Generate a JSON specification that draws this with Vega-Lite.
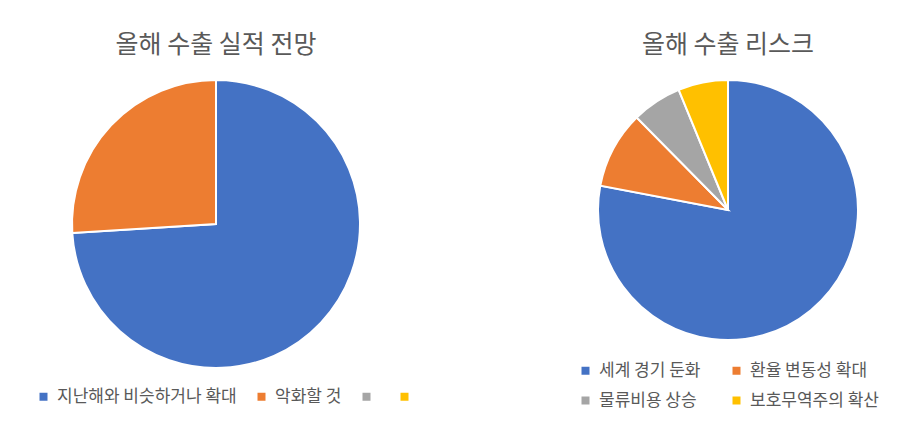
{
  "$schema": "https://vega.github.io/schema/vega-lite/v6.json",
  "background": "white",
  "padding": {"left": 5, "top": 33, "right": 5, "bottom": 5},
  "spacing": 101,
  "resolve": {"scale": {"color": "independent"}, "legend": {"color": "independent"}},
  "config": {
    "view": {"stroke": null},
    "font": "Noto Sans CJK KR",
    "title": {"fontSize": 25, "fontWeight": "normal", "color": "#595959", "offset": 18},
    "legend": {"labelFontSize": 17, "labelColor": "#595959", "symbolType": "square", "symbolSize": 64, "symbolStrokeWidth": 0, "labelOffset": 5, "labelLimit": 400}
  },
  "hconcat": [
    {
      "title": "올해 수출 실적 전망",
      "width": 422,
      "height": 288,
      "data": {"values": [
        {"category": "지난해와 비슷하거나 확대", "value": 74},
        {"category": "악화할 것", "value": 26}
      ]},
      "mark": {"type": "arc", "outerRadius": 144, "stroke": "white", "strokeWidth": 2},
      "encoding": {
        "theta": {"field": "value", "type": "quantitative", "stack": true},
        "order": {"field": "value", "sort": "descending"},
        "color": {
          "field": "category", "type": "nominal",
          "scale": {"domain": ["지난해와 비슷하거나 확대", "악화할 것", " ", "  "], "range": ["#4472C4", "#ED7D31", "#A5A5A5", "#FFC000"]},
          "legend": {"orient": "none", "legendX": 30, "legendY": 308, "direction": "horizontal", "columns": 4, "title": null, "columnPadding": 16}
        }
      }
    },
    {
      "title": "올해 수출 리스크",
      "width": 400,
      "height": 260,
      "data": {"values": [
        {"category": "세계 경기 둔화", "value": 78, "rank": 1},
        {"category": "환율 변동성 확대", "value": 9.6, "rank": 2},
        {"category": "물류비용 상승", "value": 6.2, "rank": 3},
        {"category": "보호무역주의 확산", "value": 6.2, "rank": 4}
      ]},
      "mark": {"type": "arc", "outerRadius": 130, "stroke": "white", "strokeWidth": 2},
      "encoding": {
        "theta": {"field": "value", "type": "quantitative", "stack": true},
        "order": {"field": "rank"},
        "color": {
          "field": "category", "type": "nominal",
          "scale": {"domain": ["세계 경기 둔화", "환율 변동성 확대", "물류비용 상승", "보호무역주의 확산"], "range": ["#4472C4", "#ED7D31", "#A5A5A5", "#FFC000"]},
          "legend": {"orient": "none", "legendX": 49, "legendY": 282, "direction": "horizontal", "columns": 2, "title": null, "columnPadding": 27, "rowPadding": 12}
        }
      }
    }
  ]
}
